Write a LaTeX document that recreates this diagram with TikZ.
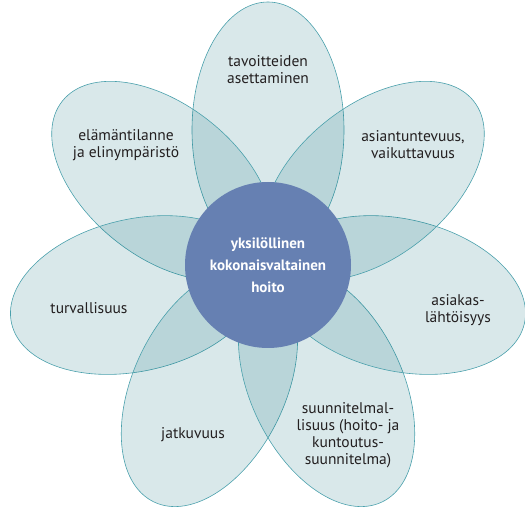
\documentclass[tikz,border=0pt]{standalone}
\usepackage{fontspec}
\setmainfont{PT Sans}
\usepackage{tikz}
\usetikzlibrary{positioning}

\definecolor{petalline}{RGB}{74,160,172}
\definecolor{petaltint}{RGB}{0,102,115}
\definecolor{hubblue}{RGB}{102,128,178}
\definecolor{inktext}{RGB}{35,31,32}

\tikzset{
  petal/.style={draw=petalline, line width=0.6pt, fill=petaltint, fill opacity=0.15, draw opacity=1},
  petaltext/.style={align=center, text=inktext, font=\fontsize{15.5}{17}\selectfont},
  hub/.style={circle, fill=hubblue, minimum size=166pt, inner sep=0pt, align=center, text=white,
    font=\bfseries\fontsize{15}{22}\selectfont}
}

\begin{document}
\begin{tikzpicture}[x=1pt,y=1pt]
        \useasboundingbox (0,0) rectangle (525,511);
        \coordinate (F) at (268,246);

        % seven petals round the centre
        \foreach \k in {0,...,6}
            \draw[petal, shift={(F)}, rotate={90+\k*360/7}] (135,0) ellipse [x radius=128, y radius=76];

        \node[hub] (core) at (F) {yksilöllinen\\kokonaisvaltainen\\hoito};

        \node[petaltext] (goals) at (268, 441) {tavoitteiden\\asettaminen};
        \node[petaltext] (lifesit) at (126, 366) {elämäntilanne\\ja elinympäristö};
        \node[petaltext] (expertise) at (413, 366) {asiantuntevuus,\\vaikuttavuus};
        \node[petaltext] (safety) at (89, 203) {turvallisuus};
        \node[petaltext] (clientcent) at (458, 201) {asiakas-\\lähtöisyys};
        \node[petaltext] (continuity) at (193, 76) {jatkuvuus};
        \node[petaltext] (planning) at (348, 76) {suunnitelmal-\\lisuus (hoito- ja\\kuntoutus-\\suunnitelma)};
\end{tikzpicture}
\end{document}
